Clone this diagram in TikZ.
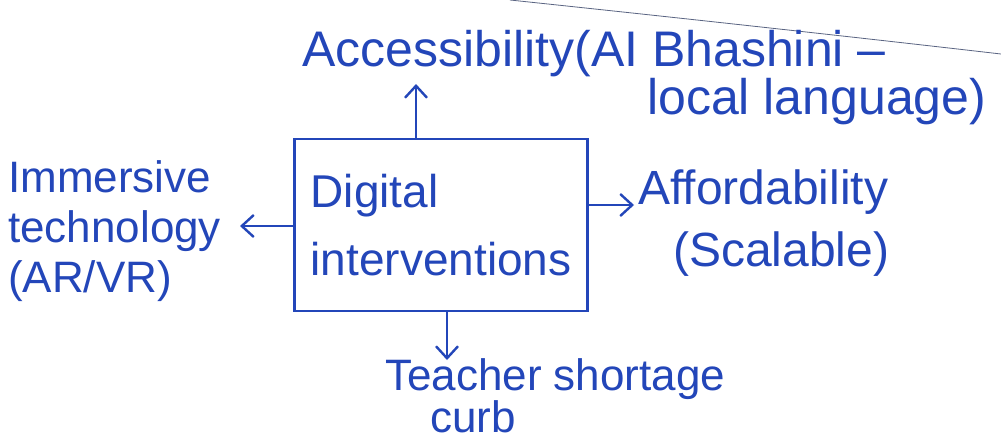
\documentclass[tikz,border=0pt]{standalone}
\usepackage{fontspec}
\setmainfont{Liberation Sans}
\usetikzlibrary{arrows.meta}
\definecolor{ink}{RGB}{35,70,185}
\definecolor{edge}{RGB}{90,100,130}
\tikzset{
  lbl/.style={text=ink, inner sep=0pt, align=left, anchor=north west},
  arr/.style={draw=ink, line width=2.4pt, -{Straight Barb[length=12pt,width=22pt,line width=2.4pt]}},
  boxnode/.style={draw=ink, line width=2.4pt, text=ink, align=left, minimum width=293pt, minimum height=172pt, inner sep=0pt}
}
\begin{document}
\begin{tikzpicture}[x=1pt,y=-1pt]
\useasboundingbox[fill=white] (0,0) rectangle (1001,445);
% paper edge line
\draw[edge, line width=0.8pt] (510,0) .. controls (700,20) and (880,40) .. (1001,54);
% centre box
\node[boxnode, font=\fontsize{46}{50}\selectfont] (box) at (441,225) {Digital\\[18pt]interventions};
% labels
\node[lbl, font=\fontsize{50}{46}\selectfont] (acc) at (302,30) {Accessibility(AI Bhashini –\\\hspace*{345pt}local language)};
\node[lbl, font=\fontsize{44}{50}\selectfont] (imm) at (8,160) {Immersive\\technology\\(AR/VR)};
\node[lbl, font=\fontsize{48}{62}\selectfont] (aff) at (638,170) {Affordability\\\hspace*{35pt}(Scalable)};
\node[lbl, font=\fontsize{44}{42}\selectfont] (teach) at (385,358) {Teacher shortage\\\hspace*{45pt}curb};
% arrow tips
\coordinate (accTip) at (416,84);
\coordinate (immTip) at (240,226);
\coordinate (affTip) at (634,205);
\coordinate (teachTip) at (447,360);
% connectors
\draw[arr] (box.north -| accTip) -- (accTip);
\draw[arr] (box.west |- immTip) -- (immTip);
\draw[arr] (box.east |- affTip) -- (affTip);
\draw[arr] (box.south -| teachTip) -- (teachTip);
\end{tikzpicture}
\end{document}
